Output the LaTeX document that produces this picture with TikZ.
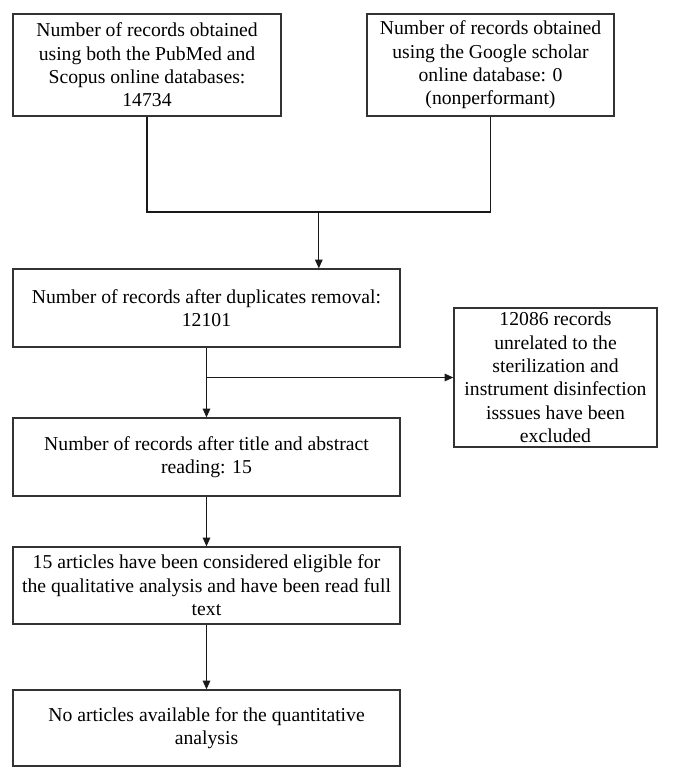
\documentclass[tikz,border=0pt]{standalone}
\usepackage{fontspec}
\setmainfont{Liberation Serif}
\usetikzlibrary{calc,arrows.meta}

\begin{document}
\begin{tikzpicture}[
		recbox/.style={draw=black!80, line width=0.9pt, rectangle, align=center, inner sep=0pt,
			font=\fontsize{14}{16.6}\selectfont},
		link/.style={draw=black!90, line width=0.9pt},
		flow/.style={link, -{Triangle[length=2.2mm,width=1.9mm]}}]
			%%%%% START %%%%%
			
			\useasboundingbox (0, 0) rectangle (16.8, 19.525);
			
			\node[recbox, minimum width=6.7cm, minimum height=2.55cm] (pubmed) at (3.675, 17.9)
				{Number of records obtained\\using both the PubMed and\\Scopus online databases:\\14734};
			\node[recbox, minimum width=6.175cm, minimum height=2.55cm] (scholar) at (12.2625, 17.9)
				{Number of records obtained\\using the Google scholar\\online database: 0\\(nonperformant)};
			
			\node[recbox, minimum width=9.675cm, minimum height=1.95cm] (dedup) at (5.1625, 11.825)
				{Number of records after duplicates removal:\\12101};
			\node[recbox, minimum width=5.075cm, minimum height=3.475cm] (excluded) at (13.8875, 10.0875)
				{12086 records\\unrelated to the\\sterilization and\\instrument disinfection\\isssues have been\\excluded};
			
			\node[recbox, minimum width=9.675cm, minimum height=1.95cm] (screened) at (5.1625, 8.1)
				{Number of records after title and abstract\\reading: 15};
			\node[recbox, minimum width=9.675cm, minimum height=1.925cm] (eligible) at (5.1625, 4.8875)
				{15 articles have been considered eligible for\\the qualitative analysis and have been read full\\text};
			\node[recbox, minimum width=9.675cm, minimum height=1.9cm] (quant) at (5.1625, 1.325)
				{No articles available for the quantitative\\analysis};
			
			\coordinate (merge) at (7.97, 14.225);
			\draw[link] (pubmed.south) -- (pubmed.south |- merge) -- (scholar.south |- merge) -- (scholar.south);
			\draw[flow] (merge) -- (merge |- dedup.north);
			
			\coordinate (split) at (dedup.south |- excluded.west);
			\draw[flow] (dedup.south) -- (screened.north);
			\draw[flow] (split) -- (excluded.west);
			
			\draw[flow] (screened.south) -- (eligible.north);
			\draw[flow] (eligible.south) -- (quant.north);
			
			%%%%% END %%%%%
		\end{tikzpicture}
\end{document}
